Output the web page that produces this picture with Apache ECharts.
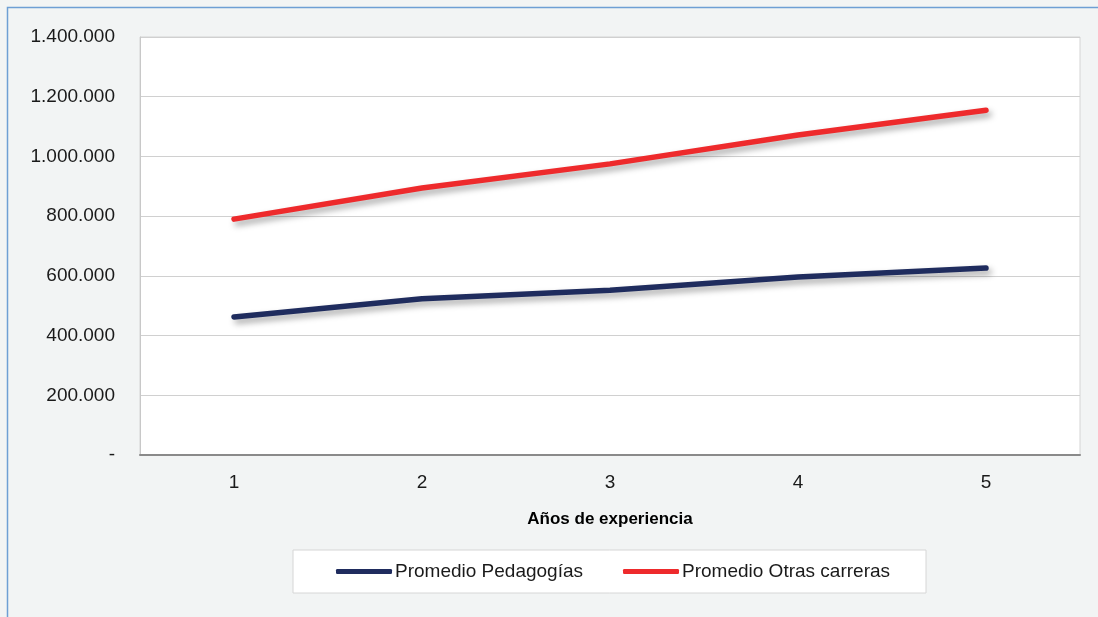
<!DOCTYPE html>
<html>
<head>
<meta charset="utf-8">
<script src="https://cdn.jsdelivr.net/npm/echarts@6/dist/echarts.min.js"></script>
<style>
html,body{margin:0;padding:0;background:#f2f4f4;}
#c{width:1098px;height:617px;}
</style>
</head>
<body>
<div id="c"></div>
<script>
const categories = ['1', '2', '3', '4', '5'];
const pedagogias = [462000, 523000, 552000, 596000, 626000];
const otras = [790000, 894000, 975000, 1072000, 1155000];
const seriesNames = ['Promedio Pedagogías', 'Promedio Otras carreras'];
const xAxisTitle = 'Años de experiencia';

function fmt(v) {
  if (v === 0) return '-';
  return String(v).replace(/\B(?=(\d{3})+(?!\d))/g, '.');
}

const chart = echarts.init(document.getElementById('c'), null, {renderer: 'canvas'});
const font = 'Liberation Sans, Arial, sans-serif';
const shadow = {shadowColor: 'rgba(0,0,0,0.35)', shadowBlur: 6, shadowOffsetX: 3, shadowOffsetY: 4};
chart.setOption({
  backgroundColor: '#f2f4f4',
  animation: false,
  graphic: [{
    type: 'rect', silent: true,
    shape: {x: 7.5, y: 7.5, width: 1200, height: 700},
    style: {fill: 'none', stroke: '#6e9fd4', lineWidth: 1.5}
  }],
  grid: {left: 140, right: 18, top: 37, bottom: 162, show: true, backgroundColor: '#ffffff', borderColor: '#d4d4d4', borderWidth: 1},
  legend: {
    data: seriesNames,
    left: 293, top: 550,
    backgroundColor: '#ffffff', borderColor: '#d6d6d6', borderWidth: 1,
    padding: [12, 36, 12, 43],
    itemWidth: 56, itemHeight: 5, itemGap: 40,
    icon: 'roundRect',
    textStyle: {fontFamily: font, fontSize: 19, color: '#1a1a1a', padding: [0, 0, 0, -2]}
  },
  xAxis: {
    type: 'category', data: categories, boundaryGap: true,
    name: xAxisTitle, nameLocation: 'middle', nameGap: 56,
    nameTextStyle: {fontFamily: font, fontSize: 17, fontWeight: 'bold', color: '#000'},
    axisLine: {lineStyle: {color: '#8a8a8a', width: 2}},
    axisTick: {show: false},
    axisLabel: {fontFamily: font, fontSize: 19, color: '#1a1a1a', margin: 18}
  },
  yAxis: {
    type: 'value', min: 0, max: 1400000, interval: 200000,
    axisLine: {show: true, lineStyle: {color: '#c8c8c8', width: 1}},
    axisTick: {show: false},
    splitLine: {lineStyle: {color: '#d0d0d0', width: 1}},
    axisLabel: {fontFamily: font, fontSize: 19, color: '#1a1a1a', margin: 25, formatter: fmt}
  },
  series: [
    {name: seriesNames[0], type: 'line', data: pedagogias, symbol: 'none',
     lineStyle: Object.assign({color: '#1f2c5e', width: 5.5, cap: 'round'}, shadow), itemStyle: {color: '#1f2c5e'}},
    {name: seriesNames[1], type: 'line', data: otras, symbol: 'none',
     lineStyle: Object.assign({color: '#ee2a2c', width: 5.5, cap: 'round'}, shadow), itemStyle: {color: '#ee2a2c'}}
  ]
});
</script>
</body>
</html>
